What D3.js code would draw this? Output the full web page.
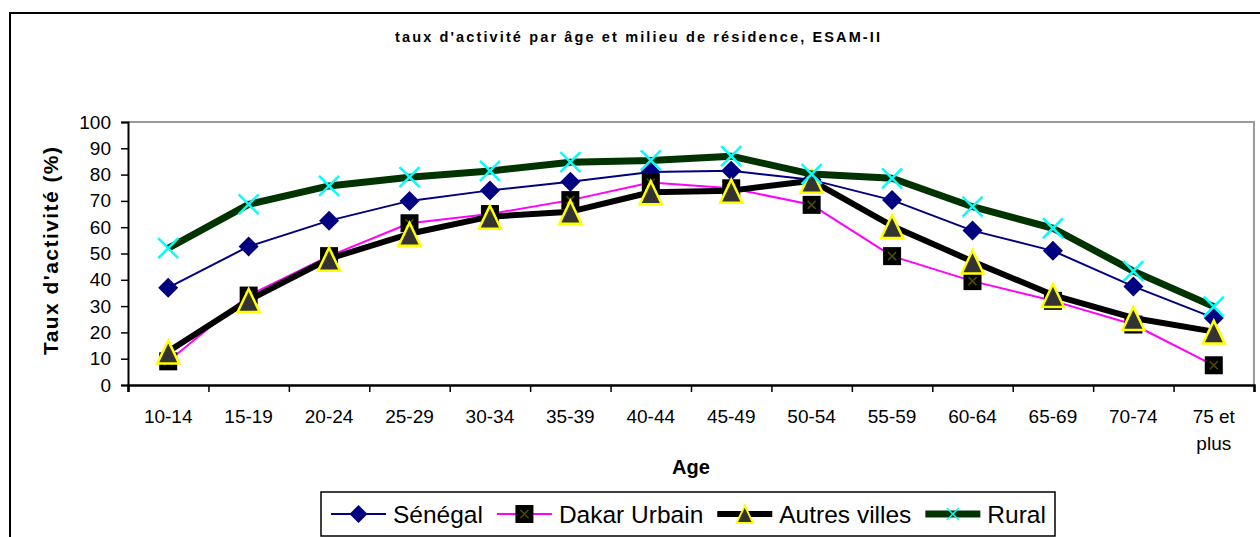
<!DOCTYPE html>
<html>
<head>
<meta charset="utf-8">
<script src="https://cdn.jsdelivr.net/npm/d3@7"></script>
<style>
  body { margin: 0; background: #fff; }
  svg { display: block; font-family: Arial, "Liberation Sans", sans-serif; }
</style>
</head>
<body>
<svg width="1260" height="537"></svg>
<script>
// categories et valeurs
var ages = ["10-14", "15-19", "20-24", "25-29", "30-34", "35-39", "40-44",
            "45-49", "50-54", "55-59", "60-64", "65-69", "70-74", "75 et plus"];
var senegal = [37, 52.7, 62.5, 70, 74, 77.3, 81, 81.5, 78, 70.3, 58.7, 51, 37.5, 25.5];
var dakar   = [9, 34, 49, 61.5, 65, 70.3, 77, 74.8, 68.5, 49, 39.5, 32, 23, 7.5];
var autres  = [12.7, 32.3, 48, 57.5, 64, 65.9, 73.3, 73.9, 77.7, 60.5, 47, 34.2, 25.5, 20.3];
var rural   = [52, 68.7, 75.7, 79, 81.4, 84.7, 85.4, 87, 80.2, 78.6, 67.8, 59.6, 43.3, 29.8];
var yTicks  = [0, 10, 20, 30, 40, 50, 60, 70, 80, 90, 100];
var seriesNames = ["Sénégal", "Dakar Urbain", "Autres villes", "Rural"];

var svg = d3.select("svg");
var pLeft = 128, pRight = 1254, pTop = 122, pBottom = 385;

var x = d3.scaleBand().domain(ages).range([pLeft, pRight]).padding(0);
var y = d3.scaleLinear().domain([0, 100]).range([pBottom, pTop]);

// cadre exterieur
svg.append("rect")
    .attr("x", 10).attr("y", 13)
    .attr("width", 1300).attr("height", 600)
    .attr("fill", "none").attr("stroke", "#000").attr("stroke-width", 2);

// titre
svg.append("text")
    .attr("x", 395).attr("y", 42)
    .attr("textLength", 485).attr("lengthAdjust", "spacing")
    .attr("font-size", 14.5).attr("font-weight", "bold")
    .text("taux d'activité par âge et milieu de résidence, ESAM-II");

// bord de la zone de tracé (gris haut/droite)
svg.append("path")
    .attr("d", "M" + pLeft + "," + pTop + "H" + pRight + "V" + pBottom)
    .attr("fill", "none").attr("stroke", "#9a9a9a").attr("stroke-width", 2);

// axe Y
var yAxis = svg.append("g")
    .attr("transform", "translate(" + pLeft + ",0)")
    .call(d3.axisLeft(y).tickValues(yTicks).tickSize(7).tickPadding(10));
yAxis.select(".domain").attr("stroke-width", 2);
yAxis.selectAll(".tick line").attr("stroke-width", 1.5);
yAxis.selectAll("text").attr("font-size", 19).attr("font-family", "Arial, 'Liberation Sans', sans-serif").attr("fill", "#000");

// axe X : graduations aux limites des classes
var xb = d3.scaleLinear().domain([0, ages.length]).range([pLeft, pRight]);
var xAxis = svg.append("g")
    .attr("transform", "translate(0," + pBottom + ")")
    .call(d3.axisBottom(xb).tickValues(d3.range(ages.length + 1))
          .tickSize(7).tickFormat(""));
xAxis.select(".domain").attr("stroke-width", 2.5);
xAxis.selectAll(".tick line").attr("stroke-width", 1.5);

// libellés X
var xl = svg.append("g");
ages.forEach(function(a) {
  var cx = x(a) + x.bandwidth() / 2;
  var t = xl.append("text")
      .attr("text-anchor", "middle")
      .attr("font-size", 19)
      .attr("x", cx)
      .attr("y", 423);
  if (a == "75 et plus") {
    t.append("tspan").attr("x", cx).text("75 et");
    t.append("tspan").attr("x", cx).attr("dy", 27).text("plus");
  } else {
    t.text(a);
  }
});

// titres des axes
svg.append("text")
    .attr("x", (pLeft + pRight) / 2).attr("y", 474)
    .attr("text-anchor", "middle")
    .attr("font-size", 20).attr("font-weight", "bold")
    .text("Age");

svg.append("text")
    .attr("transform", "translate(58,251) rotate(-90)")
    .attr("text-anchor", "middle")
    .attr("textLength", 208).attr("lengthAdjust", "spacing")
    .attr("font-size", 21).attr("font-weight", "bold")
    .text("Taux d'activité (%)");

// marqueurs
function diamond(g) {
  g.append("path").attr("d", "M0,-10L10,0L0,10L-10,0Z").attr("fill", "#000080");
}
function square(g) {
  g.append("rect").attr("x", -9).attr("y", -9).attr("width", 18).attr("height", 18).attr("fill", "#000");
  g.append("path").attr("d", "M-4,-4L4,4M-4,4L4,-4").attr("stroke", "#4d4d00").attr("stroke-width", 1.5);
}
function triangle(g) {
  g.append("path").attr("d", "M0,-11L11,12L-11,12Z")
      .attr("fill", "#333333").attr("stroke", "#ffff00").attr("stroke-width", 2.5)
      .attr("stroke-linejoin", "miter");
}
function cross(g) {
  g.append("path").attr("d", "M-10,-10L10,10M-10,10L10,-10")
      .attr("stroke", "#00ffff").attr("stroke-width", 2.5);
}

var series = [
  { name: seriesNames[0], values: senegal, color: "#000080", width: 2, marker: diamond,  lscale: 0.9 },
  { name: seriesNames[1], values: dakar,   color: "#ff00ff", width: 2, marker: square,   lscale: 1 },
  { name: seriesNames[2], values: autres,  color: "#000000", width: 6, marker: triangle, lscale: 0.75 },
  { name: seriesNames[3], values: rural,   color: "#003300", width: 7, marker: cross,    lscale: 0.6 }
];

var line = d3.line()
    .x(function(d, i) { return x(ages[i]) + x.bandwidth() / 2; })
    .y(function(d) { return y(d); });

series.forEach(function(s) {
  var g = svg.append("g");
  g.append("path")
      .attr("d", line(s.values))
      .attr("fill", "none")
      .attr("stroke", s.color)
      .attr("stroke-width", s.width)
      .attr("stroke-linejoin", "round");
  s.values.forEach(function(v, i) {
    var m = g.append("g")
        .attr("transform", "translate(" + (x(ages[i]) + x.bandwidth() / 2) + "," + y(v) + ")");
    s.marker(m);
  });
});

// légende
var lg = svg.append("g");
lg.append("rect")
    .attr("x", 321).attr("y", 492).attr("width", 734).attr("height", 44)
    .attr("fill", "#fff").attr("stroke", "#000").attr("stroke-width", 1.5);
var lx = 331;
series.forEach(function(s) {
  lg.append("line")
      .attr("x1", lx).attr("x2", lx + 55)
      .attr("y1", 514).attr("y2", 514)
      .attr("stroke", s.color).attr("stroke-width", s.width);
  var m = lg.append("g").attr("transform", "translate(" + (lx + 27.5) + ",514) scale(" + s.lscale + ")");
  s.marker(m);
  var t = lg.append("text")
      .attr("x", lx + 62).attr("y", 523)
      .attr("font-size", 24.5)
      .text(s.name);
  lx = lx + 62 + t.node().getComputedTextLength() + 14;
});
</script>
</body>
</html>
